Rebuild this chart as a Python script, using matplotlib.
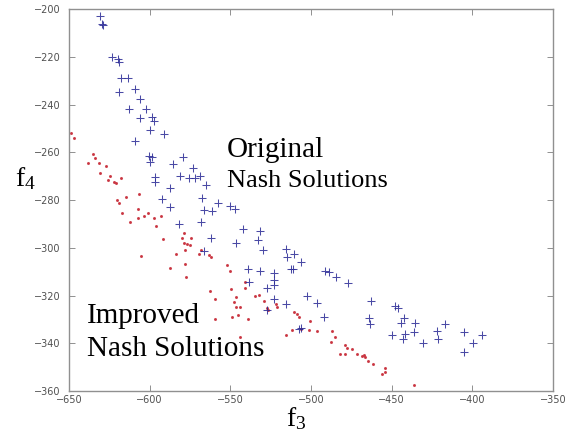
import numpy as np
import matplotlib
matplotlib.use('Agg')
import matplotlib.pyplot as plt

# original Nash solutions (blue +)
origF3 = [-630.7, -629.3, -628.7, -623.5, -619.4, -618.7, -617.9, -613.6, -619.0, -609.0,
          -605.9, -613.1, -602.4, -605.9, -598.7, -597.6, -599.5, -609.0, -591.4, -600.1,
          -598.7, -599.7, -585.8, -579.4, -596.6, -596.6, -581.1, -575.7, -573.2, -571.8,
          -569.1, -565.1, -587.3, -592.4, -587.3, -567.8, -566.6, -561.2, -557.7, -550.0,
          -546.9, -581.7, -568.0, -542.1, -531.8, -562.0, -546.3, -532.8, -566.1, -529.7,
          -515.2, -510.7, -514.8, -506.5, -539.2, -531.8, -523.1, -512.1, -523.1, -522.7,
          -527.2, -538.6, -523.1, -515.8, -527.2, -507.6, -511.3, -491.6, -488.9, -484.8,
          -476.9, -502.5, -496.3, -492.2, -506.1, -463.0, -464.0, -463.6, -447.9, -446.3,
          -442.3, -444.4, -435.7, -449.6, -441.7, -443.0, -436.1, -430.3, -421.6, -416.8,
          -421.2, -405.0, -394.2, -399.4, -405.0]
origF4 = [-202.8, -206.1, -206.4, -220.1, -221.0, -222.2, -228.9, -228.9, -234.8, -233.5,
          -237.5, -241.8, -241.8, -245.7, -245.0, -246.7, -250.6, -255.2, -252.4, -261.5,
          -261.8, -263.9, -265.0, -262.1, -270.2, -272.3, -269.9, -270.6, -266.7, -270.9,
          -269.7, -273.7, -275.1, -279.7, -282.8, -279.2, -284.1, -284.6, -281.3, -282.5,
          -283.9, -290.1, -289.3, -292.0, -292.9, -295.9, -297.9, -296.6, -301.3, -301.0,
          -300.6, -302.4, -303.8, -305.9, -308.7, -309.8, -310.5, -309.0, -313.6, -315.7,
          -316.7, -314.3, -321.3, -323.4, -326.2, -334.2, -308.8, -309.5, -310.2, -312.3,
          -314.7, -320.3, -323.1, -328.9, -333.5, -322.4, -329.5, -331.9, -324.4, -325.4,
          -329.3, -331.7, -331.4, -336.4, -336.3, -338.4, -335.3, -340.0, -334.9, -332.1,
          -338.2, -335.2, -336.6, -340.0, -343.7]

# improved Nash solutions (red dots)
impF3 = [-648.8, -646.7, -638.0, -634.9, -633.9, -631.4, -630.7, -627.0, -625.6, -624.6,
         -622.1, -620.8, -617.9, -620.4, -614.6, -618.7, -606.9, -617.3, -612.1, -607.4,
         -607.4, -603.4, -601.1, -597.0, -596.2, -592.9, -605.3, -591.8, -587.7, -583.5,
         -580.0, -579.0, -579.0, -576.9, -575.3, -574.5, -578.4, -578.0, -577.6, -569.7,
         -568.3, -563.5, -562.0, -562.8, -559.3, -559.7, -552.1, -550.4, -549.6, -547.9,
         -546.3, -546.3, -544.2, -548.9, -545.2, -543.8, -541.1, -540.7, -539.2, -534.9,
         -532.4, -529.3, -527.2, -526.6, -521.5, -521.1, -515.8, -511.7, -510.7, -508.7,
         -507.6, -506.1, -501.3, -500.7, -496.1, -487.2, -487.8, -485.3, -478.9, -477.4,
         -474.9, -482.1, -478.9, -471.2, -468.1, -467.1, -466.5, -464.4, -461.5, -456.1,
         -454.2, -454.0, -436.0]
impF4 = [-252.0, -253.8, -264.3, -260.7, -262.5, -264.6, -268.8, -265.5, -271.6, -269.7,
         -272.3, -272.7, -270.9, -279.9, -278.5, -281.3, -277.6, -285.3, -289.1, -287.3,
         -283.6, -286.8, -285.3, -287.4, -290.9, -286.8, -303.6, -296.4, -308.5, -302.5,
         -295.9, -293.6, -297.8, -298.3, -298.7, -295.9, -301.1, -306.7, -312.3, -302.5,
         -301.1, -303.2, -303.9, -318.1, -321.6, -330.0, -307.1, -309.9, -317.3, -322.9,
         -320.8, -324.7, -324.7, -328.9, -328.2, -337.5, -316.7, -314.3, -329.7, -320.1,
         -319.7, -322.2, -325.2, -326.1, -323.6, -325.0, -336.4, -334.3, -327.0, -327.7,
         -329.1, -334.2, -334.3, -330.7, -334.7, -335.0, -339.6, -337.5, -340.8, -341.9,
         -342.2, -344.3, -344.3, -344.3, -345.2, -344.8, -345.8, -347.6, -348.7, -352.9,
         -350.4, -352.2, -357.4]

xTicks = [-650, -600, -550, -500, -450, -400, -350]
yTicks = [-360, -340, -320, -300, -280, -260, -240, -220, -200]

fig = plt.figure(figsize=(5.65, 4.42), dpi=100)
ax = fig.add_axes([0.1221, 0.1154, 0.8567, 0.8636])

ax.plot(impF3, impF4, '.', color='#c8303c', markersize=2.4, alpha=0.85)
ax.plot(origF3, origF4, '+', color='#2a2a96', markersize=6, mew=0.75, alpha=0.85)

ax.set_xlim(-650, -350)
ax.set_ylim(-360, -200)
ax.set_xticks(xTicks)
ax.set_yticks(yTicks)
ax.tick_params(direction='in', length=4, width=0.7, color='#909090',
               top=True, right=True, labelsize=7, labelcolor='#505050')
ax.tick_params(axis='x', pad=3)
ax.tick_params(axis='y', pad=6)
for s in ax.spines.values():
    s.set_color('#909090')
    s.set_linewidth(1.0)

serif = 'Liberation Serif'
fig.text(0.401, 0.6455, 'Original', family=serif, fontsize=21, va='baseline')
fig.text(0.401, 0.5776, 'Nash Solutions', family=serif, fontsize=19, va='baseline')
fig.text(0.154, 0.2685, 'Improved', family=serif, fontsize=21, va='baseline')
fig.text(0.154, 0.1946, 'Nash Solutions', family=serif, fontsize=21, va='baseline')
fig.text(0.026, 0.580, r'$\mathregular{f_4}$', family=serif, fontsize=20, va='baseline')
fig.text(0.507, 0.036, r'$\mathregular{f_3}$', family=serif, fontsize=20, va='baseline')

fig.savefig('out.png', dpi=100)
